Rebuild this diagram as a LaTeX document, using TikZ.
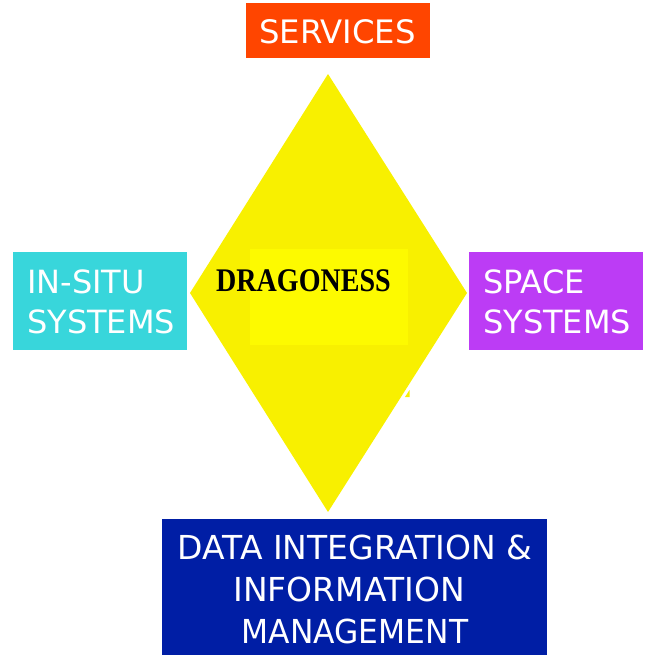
\documentclass[tikz,border=0pt]{standalone}
\usepackage{fontspec}
\setmainfont{DejaVu Sans}
\newfontfamily\serifbold{Liberation Serif}
\definecolor{svc}{RGB}{255,69,0}
\definecolor{insitu}{RGB}{56,214,219}
\definecolor{space}{RGB}{188,60,245}
\definecolor{data}{RGB}{0,30,165}
\definecolor{dia}{RGB}{248,240,0}
\definecolor{inner}{RGB}{253,250,0}
\tikzset{
  boxtext/.style={text=white,font=\fontsize{32pt}{40pt}\selectfont,inner sep=0pt,align=left,anchor=west},
  area/.style={draw=none,inner sep=0pt,anchor=north west}
}
\begin{document}
\begin{tikzpicture}[x=1pt,y=-1pt]
\useasboundingbox (0,0) rectangle (652,655);
\fill[dia] (328,74) coordinate (dt) -- (467,293) coordinate (dr) -- (328,512) coordinate (db) -- (190,293) coordinate (dl) -- cycle;
\fill[dia] (405,397) -- (409.5,397) -- (409.5,390) -- cycle;
\node[area,fill=inner,minimum width=158pt,minimum height=96pt] (core) at (250,249) {};
\node[anchor=center,font=\serifbold\bfseries\fontsize{33pt}{33pt}\selectfont,text=black,inner sep=0pt,xscale=0.85] (dragon) at (303.5,281) {DRAGONESS};
\node[area,fill=svc,minimum width=184pt,minimum height=55pt] (sbox) at (246,3) {};
\node[text=white,font=\fontsize{32.3pt}{40pt}\selectfont,inner sep=0pt] (stext) at (337.5,32) {SERVICES};
\node[area,fill=insitu,minimum width=174pt,minimum height=98pt] (ibox) at (13,252) {};
\node[boxtext] (itext) at (27,302) {IN-SITU\\SYSTEMS};
\node[area,fill=space,minimum width=174pt,minimum height=98pt] (spbox) at (469,252) {};
\node[boxtext] (sptext) at (483,302) {SPACE\\SYSTEMS};
\node[area,fill=data,minimum width=385pt,minimum height=137pt] (dbox) at (162,519) {};
\node[text=white,font=\fontsize{33pt}{42pt}\selectfont,inner sep=0pt,align=center] (dtext) at (355,589) {DATA INTEGRATION \&\\INFORMATION\rule{12pt}{0pt}\\\scalebox{0.95}[1]{MANAGEMENT}};
\end{tikzpicture}
\end{document}
